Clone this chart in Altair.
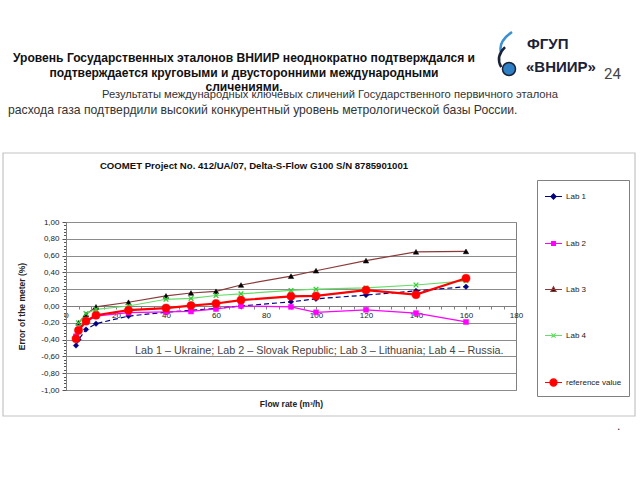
import altair as alt
import pandas as pd

# ---------------- data ----------------
flows = [4, 5, 8, 12, 25, 40, 50, 60, 70, 90, 100, 120, 140, 160]
lab1 = [-0.47, -0.40, -0.28, -0.21, -0.12, -0.075, -0.05, -0.03, 0.00, 0.05, 0.085, 0.13, 0.18, 0.23]
lab2 = [-0.36, -0.30, -0.19, -0.12, -0.08, -0.07, -0.065, -0.035, 0.00, -0.01, -0.075, -0.045, -0.085, -0.19]
lab3 = [None, -0.20, -0.10, -0.01, 0.045, 0.12, 0.155, 0.175, 0.25, 0.355, 0.42, 0.54, 0.645, 0.65]
lab4 = [None, -0.20, -0.09, -0.04, 0.00, 0.08, 0.09, 0.125, 0.145, 0.185, 0.20, 0.215, 0.25, 0.30]
ref = [-0.39, -0.29, -0.18, -0.11, -0.05, -0.025, 0.005, 0.03, 0.07, 0.115, 0.12, 0.19, 0.135, 0.33]

series_names = ["Lab 1", "Lab 2", "Lab 3", "Lab 4", "reference value"]
series_values = [lab1, lab2, lab3, lab4, ref]

x_ticks = list(range(0, 181, 5))
y_ticks = [round(-1 + 0.04 * i, 2) for i in range(51)]

# ---------------- styles ----------------
line_colors = ["#000080", "#FF00FF", "#8B3A3A", "#66DD66", "#FF0000"]
marker_colors = ["#000080", "#FF00FF", "#000000", "#33CC33", "#FF0000"]
line_widths = [1.2, 1.2, 1.2, 1.2, 2.2]
line_dashes = [[5, 3], None, None, None, None]
marker_shapes = ["diamond", "square", "triangle-up", "M-1,-1L1,1M-1,1L1,-1", "circle"]
marker_sizes = [30, 25, 30, 22, 65]
marker_filled = [True, True, True, False, True]
legend_paths = [
    "M-1,0H1M0,-0.3L0.3,0L0,0.3L-0.3,0Z",
    "M-1,0H1M-0.22,-0.22H0.22V0.22H-0.22Z",
    "M-1,0H1M0,-0.32L0.3,0.22H-0.3Z",
    "M-1,0H1M-0.25,-0.25L0.25,0.25M-0.25,0.25L0.25,-0.25",
    "M-1,0H1M0.42,0A0.42,0.42 0 1,1 -0.42,0A0.42,0.42 0 1,1 0.42,0Z",
]

FONT = "Liberation Sans"
W, H = 450, 168
X0, Y0 = 66, 222

xscale = alt.Scale(domain=[0, 180], nice=False, zero=False)
yscale = alt.Scale(domain=[-1, 1], nice=False, zero=False)

major = "abs(datum.value*5 - round(datum.value*5)) < 0.001"

x_axis = alt.Axis(
    values=x_ticks, format="d",
    labelExpr="datum.value % 20 == 0 ? datum.label : ''",
    offset=-84, grid=False, domainColor="#808080", tickColor="#808080",
    tickSize=3, labelPadding=2, labelFont=FONT, labelFontSize=8, labelColor="#222222",
    labelFlush=False, labelOverlap=False,
    title="Flow rate (m³/h)", titleFont=FONT, titleFontSize=8.5, titleFontWeight="bold",
    titleColor="#222222", titlePadding=80,
)
y_axis = alt.Axis(
    values=y_ticks,
    labelExpr=major + " ? replace(replace(format(datum.value, '.2f'), '.', ','), '\u2212', '-') : ''",
    grid=True, gridColor="#8c8c8c",
    gridOpacity={"condition": {"test": major, "value": 1}, "value": 0},
    tickSize={"condition": {"test": major, "value": 4}, "value": 2.5},
    domainColor="#808080", tickColor="#555555",
    labelFont=FONT, labelFontSize=8, labelColor="#222222", labelPadding=3, labelOverlap=False,
    title="Error of the meter (%)", titleFont=FONT, titleFontSize=8.5, titleFontWeight="bold",
    titleColor="#222222", titlePadding=14,
)


def frame(vals):
    return pd.DataFrame({
        "flow": [f for f, v in zip(flows, vals) if v is not None],
        "err": [v for v in vals if v is not None],
    })


def blank():
    return alt.Chart(alt.Data(values=[{}]))


def label(text, x, y, size, weight="normal", color="#000000", align="left", font=FONT):
    return blank().mark_text(
        text=text, align=align, baseline="middle", fontSize=size, fontWeight=weight,
        color=color, font=font,
    ).encode(x=alt.value(x - X0), y=alt.value(y - Y0))


layers = []

# data lines and markers (all share the same axes)
for i, (name, vals) in enumerate(zip(series_names, series_values)):
    line_kwargs = dict(color=line_colors[i], strokeWidth=line_widths[i])
    if line_dashes[i]:
        line_kwargs["strokeDash"] = line_dashes[i]
    layers.append(
        alt.Chart(frame(vals)).mark_line(**line_kwargs).encode(
            x=alt.X("flow:Q", scale=xscale, axis=x_axis),
            y=alt.Y("err:Q", scale=yscale, axis=y_axis),
        )
    )
for i, (name, vals) in enumerate(zip(series_names, series_values)):
    pkw = dict(shape=marker_shapes[i], size=marker_sizes[i], opacity=1, filled=marker_filled[i])
    if marker_filled[i]:
        pkw["fill"] = marker_colors[i]
        pkw["stroke"] = marker_colors[i]
        pkw["strokeWidth"] = 0.5
    else:
        pkw["stroke"] = marker_colors[i]
        pkw["strokeWidth"] = 1.3
    layers.append(
        alt.Chart(frame(vals)).mark_point(**pkw).encode(
            x=alt.X("flow:Q", scale=xscale, axis=x_axis),
            y=alt.Y("err:Q", scale=yscale, axis=y_axis),
        )
    )

# outer frame of the embedded chart picture
layers.append(
    blank().mark_rect(fillOpacity=0, stroke="#c4c4c4", strokeWidth=1.2).encode(
        x=alt.value(3 - X0), x2=alt.value(635 - X0), y=alt.value(153 - Y0), y2=alt.value(416 - Y0)
    )
)

# legend (symbols come from the series scales)
leg = alt.Legend(
    title=None, orient="none", legendX=537 - X0, legendY=180 - Y0,
    strokeColor="#808080", fillColor="white", padding=7, rowPadding=32,
    symbolSize=289, symbolStrokeWidth=1.2, labelFont=FONT, labelFontSize=8,
    labelColor="#222222", labelOffset=3,
)
legend_df = pd.DataFrame({"series": series_names})
layers.append(
    alt.Chart(legend_df).mark_point(filled=True, size=289, strokeWidth=1.2, opacity=1).encode(
        x=alt.value(-5000), y=alt.value(-5000),
        fill=alt.Fill("series:N", scale=alt.Scale(domain=series_names, range=marker_colors), legend=leg),
        stroke=alt.Stroke("series:N", scale=alt.Scale(domain=series_names, range=line_colors), legend=leg),
        shape=alt.Shape("series:N", scale=alt.Scale(domain=series_names, range=legend_paths), legend=leg),
    )
)

# texts of the chart picture
layers.append(label("COOMET Project No. 412/UA/07, Delta-S-Flow G100 S/N 8785901001",
                    254, 166, 9.6, weight="bold", color="#111111", align="center"))
layers.append(label("Lab 1 \u2013 Ukraine;  Lab 2 \u2013 Slovak Republic; Lab 3 \u2013 Lithuania;  Lab 4 \u2013 Russia.",
                    135, 351, 10.8, color="#444444"))

# slide texts
layers.append(label("Уровень Государственных эталонов ВНИИР неоднократно подтверждался и",
                    244, 58, 12.1, weight="bold", color="#111111", align="center"))
layers.append(label("подтверждается круговыми и двусторонними международными",
                    244, 73, 12.1, weight="bold", color="#111111", align="center"))
layers.append(label("сличениями.", 244, 87, 12.1, weight="bold", color="#111111", align="center"))
layers.append(label("Результаты международных ключевых сличений Государственного первичного эталона",
                    102, 95, 11.2, color="#333333"))
layers.append(label("расхода газа подтвердили высокий конкурентный уровень метрологической базы России.",
                    8, 110, 12.2, color="#333333"))
layers.append(label("ФГУП", 527, 44, 15, weight="bold", color="#1a2238"))
layers.append(label("«ВНИИР»", 526, 67, 15, weight="bold", color="#1a2238"))
layers.append(label("24", 604, 74, 15, color="#444444", font="Roboto"))
layers.append(label(".", 617, 426, 12, color="#333333"))

# logo marks
layers.append(
    blank().mark_point(shape="M0.25,-0.92Q-0.35,-0.5 -0.2,-0.05", size=2304, filled=False,
                       stroke="#3a8fd0", strokeWidth=2.5, opacity=1).encode(
        x=alt.value(506 - X0), y=alt.value(54 - Y0))
)
layers.append(
    blank().mark_point(shape="M-0.04,-0.29Q-0.45,0.1 -0.2,0.55", size=2304, filled=False,
                       stroke="#1a2238", strokeWidth=2.5, opacity=1).encode(
        x=alt.value(506 - X0), y=alt.value(54 - Y0))
)
layers.append(
    blank().mark_point(shape="circle", size=170, filled=True, fill="#2e7fc4",
                       stroke="#1a2238", strokeWidth=1.5, opacity=1).encode(
        x=alt.value(509 - X0), y=alt.value(69 - Y0))
)

chart = alt.layer(*layers).properties(
    width=W, height=H,
    padding={"left": X0, "top": Y0, "right": 640 - X0 - W, "bottom": 480 - Y0 - H},
    autosize=alt.AutoSizeParams(type="none"),
    background="white",
).configure_view(stroke="#808080", strokeWidth=1)

chart.save("out.html", embed_options={"renderer": "svg", "actions": False})
